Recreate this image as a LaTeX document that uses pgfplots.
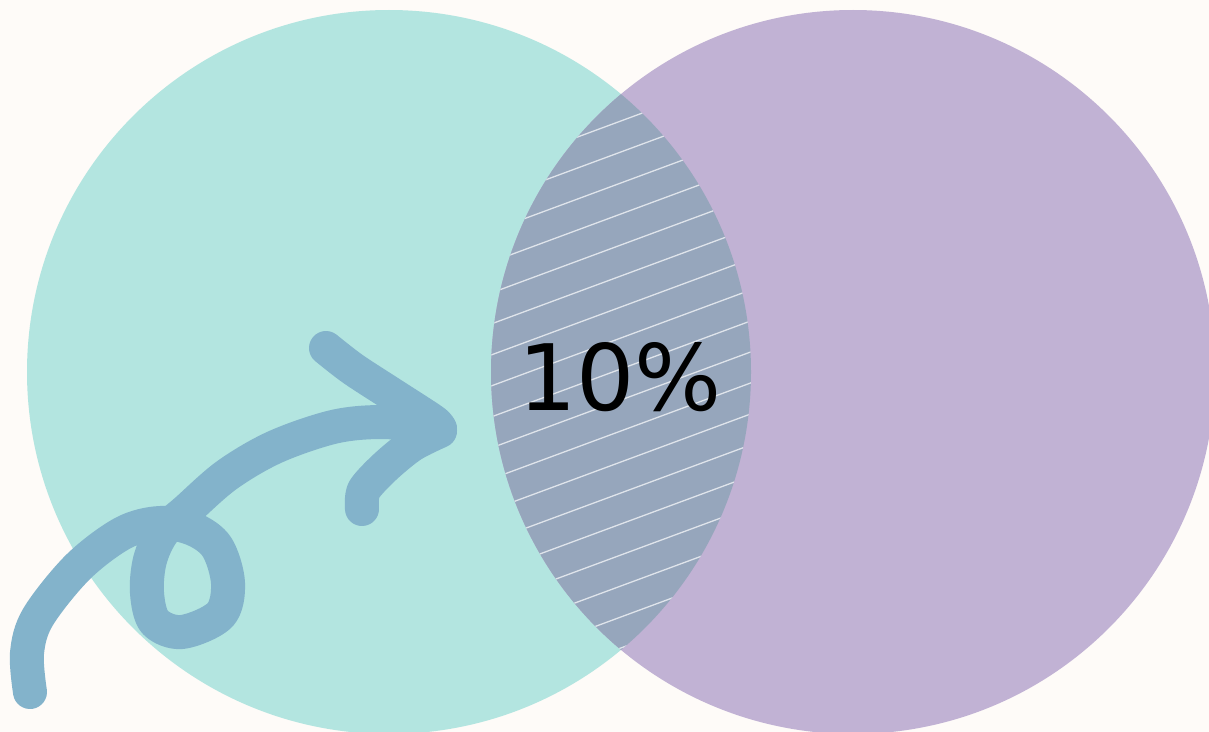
\documentclass[border=0pt]{standalone}
\usepackage{pgfplots}
\pgfplotsset{compat=1.18}
\usepackage{fontspec}
\newfontfamily\dejavu{DejaVu Sans}
\definecolor{bgc}{HTML}{FEFBF8}
\definecolor{cA}{HTML}{B3E5E0}
\definecolor{cB}{HTML}{C1B2D4}
\definecolor{cAB}{HTML}{96A6BC}
\definecolor{cArrow}{HTML}{83B3CB}
\begin{document}
\begin{tikzpicture}
\begin{axis}[width=1209bp, height=732bp, scale only axis,
  xmin=0, xmax=1209, ymin=0, ymax=732, y dir=reverse,
  hide axis, clip=true]
\fill[bgc] (axis cs:0,0) rectangle (axis cs:1209,732);
% two sets
\fill[cA] (axis cs:389,372) circle[radius=362bp];
\fill[cB] (axis cs:853,372) circle[radius=362bp];
\begin{scope}
\clip (axis cs:389,372) circle[radius=362bp];
\fill[cAB] (axis cs:853,372) circle[radius=362bp];
\clip (axis cs:853,372) circle[radius=362bp];
\draw[white, opacity=0.7, line width=1.3bp]
 (axis cs:470,83.8) -- (axis cs:780,-30.9)
 (axis cs:470,114.8) -- (axis cs:780,0.1)
 (axis cs:470,145.8) -- (axis cs:780,31.1)
 (axis cs:470,176.8) -- (axis cs:780,62.1)
 (axis cs:470,207.8) -- (axis cs:780,93.1)
 (axis cs:470,238.8) -- (axis cs:780,124.1)
 (axis cs:470,269.8) -- (axis cs:780,155.1)
 (axis cs:470,300.8) -- (axis cs:780,186.1)
 (axis cs:470,331.8) -- (axis cs:780,217.1)
 (axis cs:470,362.8) -- (axis cs:780,248.1)
 (axis cs:470,393.8) -- (axis cs:780,279.1)
 (axis cs:470,424.8) -- (axis cs:780,310.1)
 (axis cs:470,455.8) -- (axis cs:780,341.1)
 (axis cs:470,486.8) -- (axis cs:780,372.1)
 (axis cs:470,517.8) -- (axis cs:780,403.1)
 (axis cs:470,548.8) -- (axis cs:780,434.1)
 (axis cs:470,579.8) -- (axis cs:780,465.1)
 (axis cs:470,610.8) -- (axis cs:780,496.1)
 (axis cs:470,641.8) -- (axis cs:780,527.1)
 (axis cs:470,672.8) -- (axis cs:780,558.1)
 (axis cs:470,703.8) -- (axis cs:780,589.1)
 (axis cs:470,734.8) -- (axis cs:780,620.1)
 (axis cs:470,765.8) -- (axis cs:780,651.1);
\end{scope}
% hand-drawn arrow
\addplot[cArrow, line width=34bp, line cap=round, line join=round, smooth, tension=0.55]
coordinates {(30,692) (27,653) (38,617) (78,567) (123,533) (160,523) (193,529) (217,547) (228,583) (220,615) (182,632) (155,622) (147,593) (150,560) (163,532) (187,510) (227,475) (275,447) (333,427) (380,422) (427,426) (440,429)};
\addplot[cArrow, line width=34bp, line cap=round, line join=round, smooth]
coordinates {(326,348) (353,369) (393,395) (433,421) (440,429)};
\addplot[cArrow, line width=34bp, line cap=round, line join=round, smooth]
coordinates {(440,431) (412,445) (385,467) (364,490) (362,509)};
\node[anchor=base, inner sep=0pt, font=\dejavu\fontsize{92}{92}\selectfont] at (axis cs:620,410) {10\%};
\end{axis}
\pgfresetboundingbox
\useasboundingbox (current axis.south west) rectangle (current axis.north east);
\end{tikzpicture}
\end{document}
